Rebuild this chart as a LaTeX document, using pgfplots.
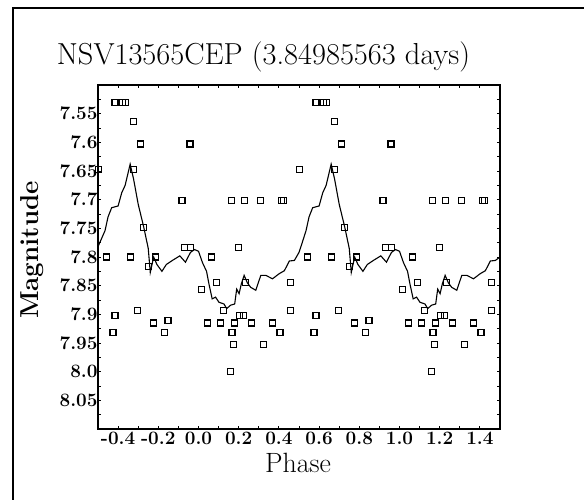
\documentclass[border=0pt]{standalone}
\usepackage{pgfplots}
\pgfplotsset{compat=1.18}
\begin{document}
\begin{tikzpicture}
\path[use as bounding box] (0,0) rectangle (584bp,500bp);
\draw[line width=2.6bp] (13bp,0) -- (13bp,492bp) -- (584bp,492bp);
\node[anchor=base, font=\fontsize{30.5}{34}\selectfont, inner sep=0] at (263.5bp,435bp) {NSV13565CEP (3.84985563 days)};
\node[anchor=base, font=\fontsize{28}{30}\selectfont, inner sep=0] at (298bp,28bp) {Phase};
\node[anchor=base, rotate=90, font=\fontsize{26}{28}\selectfont\bfseries, inner sep=0] at (38bp,250bp) {Magnitude};
\begin{axis}[
  at={(98bp,71bp)}, anchor=south west,
  width=402bp, height=344bp, scale only axis,
  xmin=-0.5, xmax=1.5, ymin=7.5, ymax=8.1, y dir=reverse,
  axis line style={line width=1.3bp},
  xtick={-0.4,-0.2,0,0.2,0.4,0.6,0.8,1.0,1.2,1.4},
  xticklabels={-0.4,-0.2,0.0,0.2,0.4,0.6,0.8,1.0,1.2,1.4},
  minor xtick={-0.3,-0.1,0.1,0.3,0.5,0.7,0.9,1.1,1.3},
  ytick={7.55,7.6,7.65,7.7,7.75,7.8,7.85,7.9,7.95,8.0,8.05},
  yticklabels={7.55,7.6,7.65,7.7,7.75,7.8,7.85,7.9,7.95,8.0,8.05},
  minor ytick={7.525,7.575,7.625,7.675,7.725,7.775,7.825,7.875,7.925,7.975,8.025,8.075},
  tick align=inside,
  major tick length=3bp, minor tick length=3bp,
  tick style={line width=0.9bp, black},
  ticklabel style={font=\fontsize{19}{19}\selectfont\bfseries},
  xticklabel style={inner sep=0.5bp, yshift=-2bp},
  yticklabel style={inner sep=0.3bp},
  tick label style={/pgf/number format/assume math mode=true},
]
\addplot[black, line width=1.1bp] coordinates {
(-0.500,7.782) (-0.485,7.770) (-0.465,7.754) (-0.450,7.730) (-0.432,7.714)
(-0.400,7.711) (-0.382,7.688) (-0.365,7.675) (-0.340,7.638) (-0.323,7.664)
(-0.300,7.708) (-0.273,7.747) (-0.250,7.785) (-0.240,7.827) (-0.223,7.800)
(-0.207,7.813) (-0.182,7.825) (-0.160,7.813) (-0.130,7.806) (-0.093,7.798)
(-0.065,7.809) (-0.040,7.792) (-0.020,7.787)
(0.000,7.790) (0.020,7.810) (0.040,7.825) (0.052,7.847) (0.068,7.873)
(0.085,7.870) (0.102,7.879) (0.127,7.882) (0.140,7.890) (0.160,7.884)
(0.180,7.882) (0.190,7.856) (0.202,7.864) (0.213,7.847) (0.227,7.832)
(0.243,7.845) (0.260,7.853) (0.285,7.858) (0.310,7.832) (0.335,7.832)
(0.368,7.838) (0.402,7.829) (0.427,7.824) (0.452,7.807) (0.477,7.806)
(0.500,7.792) (0.515,7.776) (0.535,7.754) (0.550,7.730) (0.568,7.714)
(0.600,7.711) (0.618,7.688) (0.635,7.675) (0.660,7.638) (0.677,7.664)
(0.700,7.708) (0.727,7.747) (0.750,7.785) (0.760,7.827) (0.777,7.800)
(0.793,7.813) (0.818,7.825) (0.840,7.813) (0.870,7.806) (0.907,7.798)
(0.935,7.809) (0.960,7.792) (0.980,7.787)
(1.000,7.790) (1.020,7.810) (1.040,7.825) (1.052,7.847) (1.068,7.873)
(1.085,7.870) (1.102,7.879) (1.127,7.882) (1.140,7.890) (1.160,7.884)
(1.180,7.882) (1.190,7.856) (1.202,7.864) (1.213,7.847) (1.227,7.832)
(1.243,7.845) (1.260,7.853) (1.285,7.858) (1.310,7.832) (1.335,7.832)
(1.368,7.838) (1.402,7.829) (1.427,7.824) (1.452,7.807) (1.477,7.806)
(1.500,7.800)
};
\addplot[only marks, mark=square, mark size=3bp, mark options={line width=1.2bp, black}] coordinates {
(-0.498,7.648) (-0.457,7.800) (-0.425,7.932) (-0.415,7.902) (-0.415,7.530)
(-0.378,7.530) (-0.365,7.530) (-0.340,7.800) (-0.322,7.564) (-0.322,7.648)
(-0.302,7.894) (-0.288,7.603) (-0.272,7.748) (-0.248,7.817) (-0.225,7.915)
(-0.215,7.800) (-0.170,7.932) (-0.152,7.911) (-0.082,7.702) (-0.070,7.784)
(-0.042,7.603) (-0.040,7.784)
(0.013,7.856) (0.043,7.915) (0.065,7.800) (0.090,7.845) (0.110,7.915)
(0.125,7.894) (0.160,8.000) (0.163,7.702) (0.167,7.932) (0.173,7.952)
(0.180,7.915) (0.198,7.784) (0.205,7.902) (0.225,7.902) (0.227,7.702)
(0.235,7.845) (0.265,7.915) (0.310,7.702) (0.325,7.952) (0.370,7.915)
(0.405,7.932) (0.412,7.702) (0.422,7.702) (0.458,7.845) (0.458,7.894)
(0.502,7.648) (0.543,7.800) (0.575,7.932) (0.585,7.902) (0.585,7.530)
(0.622,7.530) (0.635,7.530) (0.660,7.800) (0.678,7.564) (0.678,7.648)
(0.698,7.894) (0.712,7.603) (0.728,7.748) (0.752,7.817) (0.775,7.915)
(0.785,7.800) (0.830,7.932) (0.848,7.911) (0.918,7.702) (0.930,7.784)
(0.958,7.603) (0.960,7.784)
(1.013,7.856) (1.043,7.915) (1.065,7.800) (1.090,7.845) (1.110,7.915)
(1.125,7.894) (1.160,8.000) (1.163,7.702) (1.167,7.932) (1.173,7.952)
(1.180,7.915) (1.198,7.784) (1.205,7.902) (1.225,7.902) (1.227,7.702)
(1.235,7.845) (1.265,7.915) (1.310,7.702) (1.325,7.952) (1.370,7.915)
(1.405,7.932) (1.412,7.702) (1.422,7.702) (1.458,7.845) (1.458,7.894)
};
\end{axis}
\end{tikzpicture}
\end{document}
